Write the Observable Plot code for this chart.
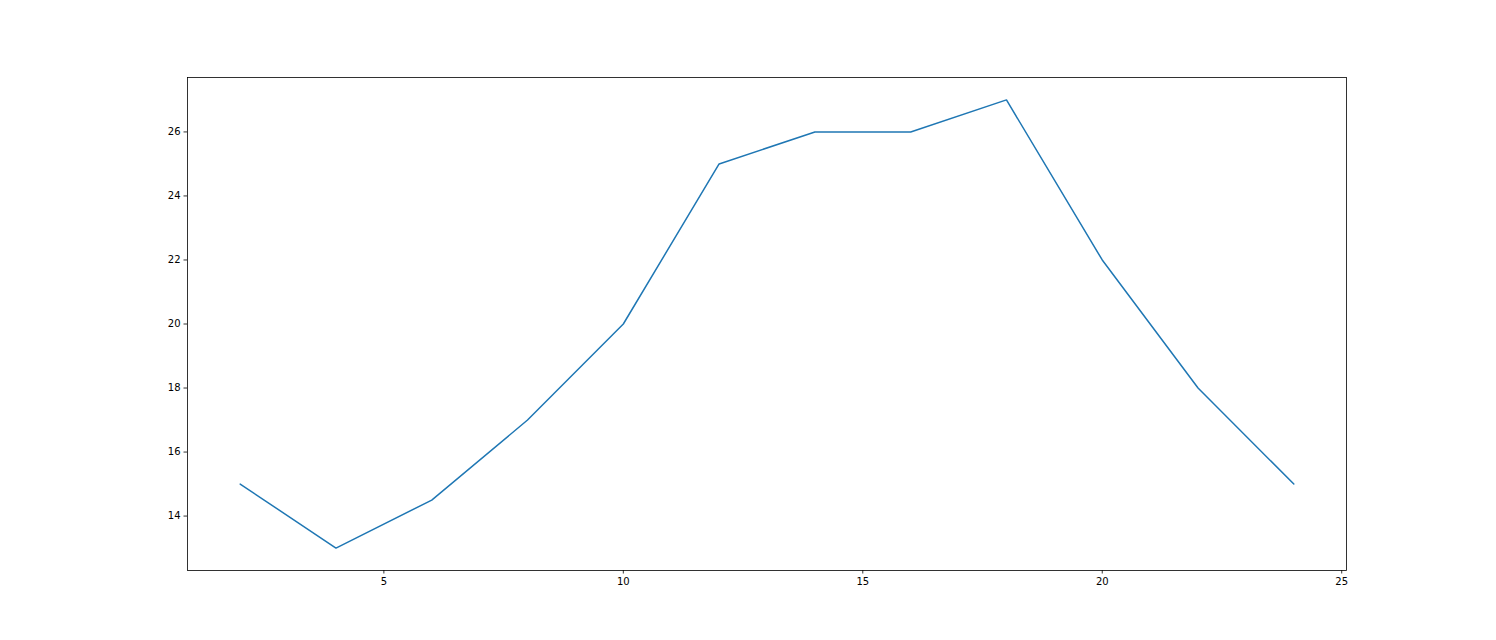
<!DOCTYPE html>
<html>
<head>
<meta charset="utf-8">
<script src="https://cdn.jsdelivr.net/npm/d3@7"></script>
<script src="https://cdn.jsdelivr.net/npm/@observablehq/plot@0.6"></script>
<style>
  html, body { margin: 0; padding: 0; background: #fff; }
  svg { display: block; }
</style>
</head>
<body>
<div id="chart"></div>
<script>
const xValues = [2, 4, 6, 8, 10, 12, 14, 16, 18, 20, 22, 24];
const yValues = [15, 13, 14.5, 17, 20, 25, 26, 26, 27, 22, 18, 15];
const xTicks = [5, 10, 15, 20, 25];
const yTicks = [14, 16, 18, 20, 22, 24, 26];

const data = xValues.map((x, i) => ({x, y: yValues[i]}));

const chart = Plot.plot({
  width: 1496,
  height: 640,
  marginLeft: 187,
  marginRight: 150,
  marginTop: 77,
  marginBottom: 70,
  style: {fontFamily: "DejaVu Sans", fontSize: "10px", color: "#000", background: "#fff"},
  x: {domain: [0.9, 25.1], ticks: xTicks, tickSize: 3.5, tickPadding: 3.5, label: null},
  y: {domain: [12.3, 27.7], ticks: yTicks, tickSize: 3.5, tickPadding: 3.5, label: null},
  marks: [
    Plot.line(data, {x: "x", y: "y", stroke: "#1f77b4", strokeWidth: 1.5}),
    Plot.frame({stroke: "#000", strokeWidth: 0.8}),
    Plot.axisX({ticks: xTicks, tickSize: 3.5, tickPadding: 3.5, fontSize: 10, label: null, stroke: "#000", strokeWidth: 0.8}),
    Plot.axisY({ticks: yTicks, tickSize: 3.5, tickPadding: 3.5, fontSize: 10, label: null, stroke: "#000", strokeWidth: 0.8})
  ]
});
document.getElementById("chart").appendChild(chart);
</script>
</body>
</html>
